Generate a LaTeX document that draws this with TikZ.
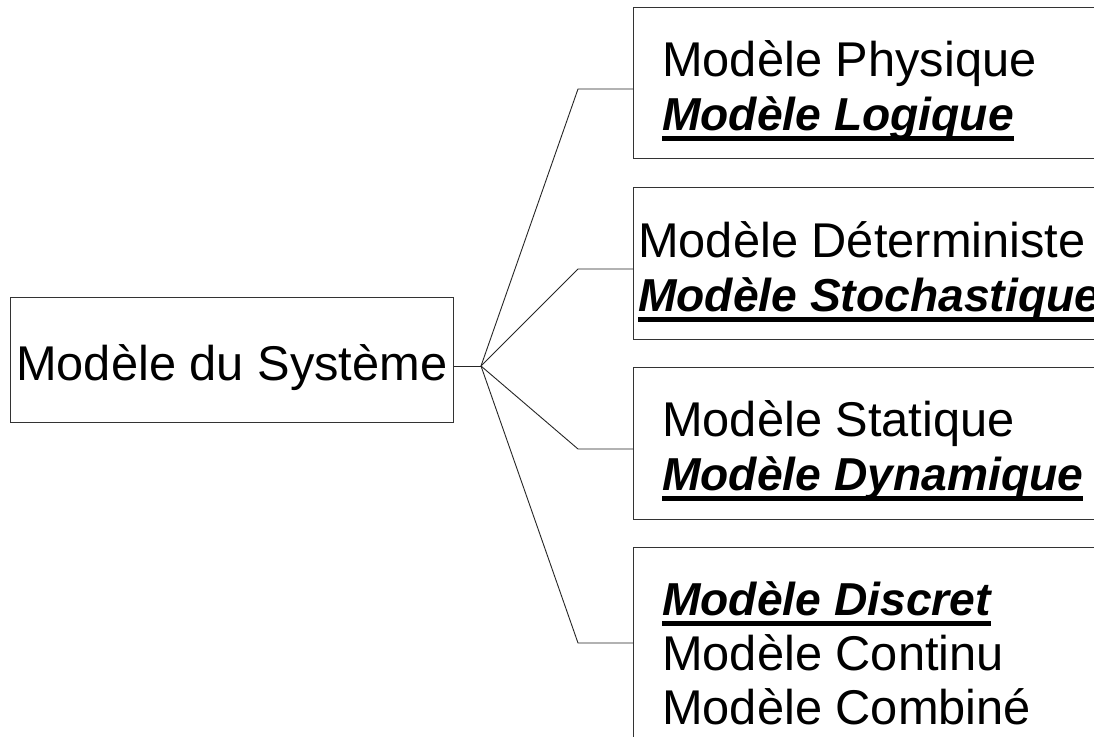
\documentclass[tikz,border=0pt]{standalone}
\usepackage{fontspec}
\setmainfont{Liberation Sans}
\newcommand\bigtext{\fontsize{48.8}{52}\selectfont}
\newcommand\myul[1]{\setbox0\hbox{#1}\rlap{\rule[-11pt]{\wd0}{5.5pt}}\box0}
\newcommand\bi[1]{\myul{\fontsize{46.2}{52}\selectfont\bfseries\itshape #1}}
\begin{document}
\begin{tikzpicture}[x=1pt,y=-1pt,
  box/.style={draw=black!80, line width=1.2pt, rectangle, inner sep=0pt, anchor=north west},
  txt/.style={anchor=base west, inner sep=0pt, font=\bigtext},
  conn/.style={draw=black!85, line width=0.9pt}]
\useasboundingbox (0,0) rectangle (1094,736);
\clip (0,0) rectangle (1094,736);
\fill[white] (0,0) rectangle (1094,736);
% boxes
\node[box, minimum width=443pt, minimum height=125pt] (main) at (10,297) {};
\node[box, minimum width=520pt, minimum height=151pt] (b1) at (633,7) {};
\node[box, minimum width=520pt, minimum height=152pt] (b2) at (633,187) {};
\node[box, minimum width=520pt, minimum height=152pt] (b3) at (633,367) {};
\node[box, minimum width=520pt, minimum height=250pt] (b4) at (633,547) {};
% texts
\node[txt] (m) at (16,380) {Modèle du Système};
\node[txt] (t1a) at (662,76) {Modèle Physique};
\node[txt] (t1b) at (662,130) {\bi{Modèle Logique}};
\node[txt] (t2a) at (638,257) {Modèle Déterministe};
\node[txt] (t2b) at (638,311) {\bi{Modèle Stochastique}};
\node[txt] (t3a) at (662,436) {Modèle Statique};
\node[txt] (t3b) at (662,490) {\bi{Modèle Dynamique}};
\node[txt] (t4a) at (662,615) {\bi{Modèle Discret}};
\node[txt] (t4b) at (662,670) {Modèle Continu};
\node[txt] (t4c) at (662,724) {Modèle Combiné};
% connectors
\coordinate (J) at (481,366);
\coordinate (e1) at (578,89);
\coordinate (e2) at (578,269);
\coordinate (e3) at (578,449);
\coordinate (e4) at (578,643);
\draw[conn] (J -| main.east) -- (J);
\draw[conn] (J) -- (e1) -- (e1 -| b1.west);
\draw[conn] (J) -- (e2) -- (e2 -| b2.west);
\draw[conn] (J) -- (e3) -- (e3 -| b3.west);
\draw[conn] (J) -- (e4) -- (e4 -| b4.west);
\end{tikzpicture}
\end{document}
